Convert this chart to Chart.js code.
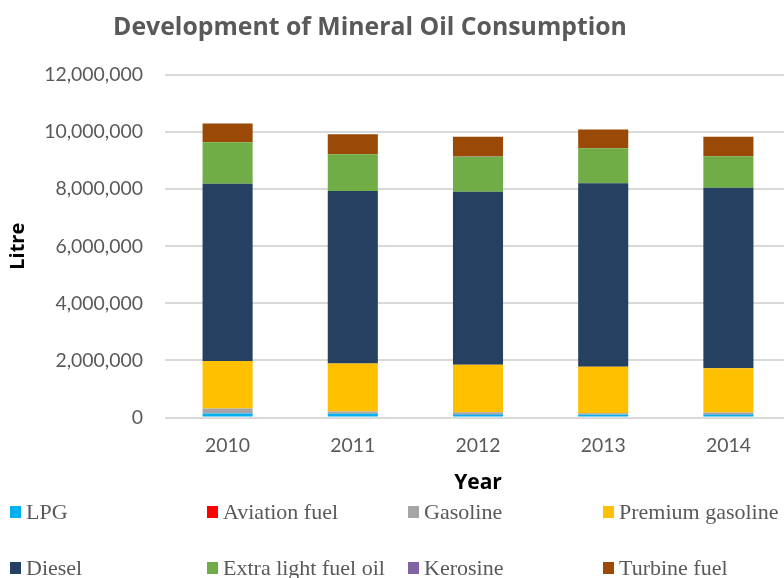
<!DOCTYPE html>
<html>
<head>
<meta charset="utf-8">
<script src="https://cdn.jsdelivr.net/npm/chart.js@4"></script>
<style>
    html, body { margin: 0; padding: 0; background: #fff; }
    #wrap { position: relative; width: 784px; height: 578px; overflow: hidden; }
    #chartBox { position: absolute; left: 0; top: 0; width: 800px; height: 500px; }
    #legend {
        position: absolute; left: 10px; top: 498px;
        display: grid; grid-template-columns: 197px 201px 195px 220px;
        grid-auto-rows: 28px; row-gap: 28px;
        font-family: "Liberation Serif", serif; font-size: 22px; color: #595959;
    }
    .item { display: flex; align-items: center; white-space: nowrap; }
    .box { width: 11px; height: 12px; margin-right: 5px; flex: none; }
</style>
</head>
<body>
<div id="wrap">
    <div id="chartBox"><canvas id="oilChart"></canvas></div>
    <div id="legend"></div>
</div>
<script>
const years = ['2010', '2011', '2012', '2013', '2014'];
const lpg = [140000, 130000, 110000, 95000, 110000];
const aviationFuel = [5000, 4000, 4000, 4000, 4000];
const gasoline = [175000, 78000, 74000, 54000, 62000];
const premiumGasoline = [1656000, 1682000, 1659000, 1623000, 1553000];
const diesel = [6214000, 6046000, 6063000, 6434000, 6321000];
const extraLightFuelOil = [1450000, 1280000, 1230000, 1220000, 1100000];
const kerosine = [5000, 4000, 4000, 4000, 4000];
const turbineFuel = [660000, 700000, 690000, 660000, 680000];

const yMax = 12000000;
const yStep = 2000000;

const grey = '#595959';

// draws the title off-centre, like the original
const titlePlugin = {
    id: 'offTitle',
    afterDraw(chart) {
        const ctx = chart.ctx;
        ctx.save();
        ctx.font = 'bold 24.8px "Open Sans"';
        ctx.fillStyle = grey;
        ctx.textAlign = 'center';
        ctx.textBaseline = 'middle';
        ctx.fillText('Development of Mineral Oil Consumption', 370, 28);
        ctx.restore();
    }
};

const ctx = document.getElementById('oilChart').getContext('2d');
const chart = new Chart(ctx, {
    type: 'bar',
    data: {
        labels: years,
        datasets: [
            { label: 'LPG', data: lpg, backgroundColor: '#00b0f0' },
            { label: 'Aviation fuel', data: aviationFuel, backgroundColor: '#ff0000' },
            { label: 'Gasoline', data: gasoline, backgroundColor: '#a5a5a5' },
            { label: 'Premium gasoline', data: premiumGasoline, backgroundColor: '#ffc000' },
            { label: 'Diesel', data: diesel, backgroundColor: '#264061' },
            { label: 'Extra light fuel oil', data: extraLightFuelOil, backgroundColor: '#70ad47' },
            { label: 'Kerosine', data: kerosine, backgroundColor: '#8064a2' },
            { label: 'Turbine fuel', data: turbineFuel, backgroundColor: '#9a4a06' }
        ]
    },
    options: {
        responsive: true,
        maintainAspectRatio: false,
        animation: false,
        layout: { padding: { top: 75, right: 9, bottom: 4, left: 0 } },
        datasets: { bar: { categoryPercentage: 1, barPercentage: 0.4, borderWidth: 0 } },
        plugins: {
            legend: { display: false },
            title: { display: false },
            tooltip: { enabled: false }
        },
        scales: {
            x: {
                stacked: true,
                grid: { display: false, drawTicks: false },
                border: { display: false },
                ticks: { color: grey, font: { family: 'Lato', size: 19.4 }, padding: 17 },
                title: {
                    display: true, text: 'Year', color: '#000',
                    font: { family: 'Open Sans', size: 21, weight: 'bold' },
                    padding: { top: -4, bottom: 0 }
                }
            },
            y: {
                stacked: true,
                min: 0, max: yMax,
                afterFit(scale) { scale.width = 165; },
                grid: { color: '#d9d9d9', lineWidth: 2, drawTicks: false },
                border: { display: false },
                ticks: {
                    stepSize: yStep, color: grey, padding: 22,
                    font: { family: 'Lato', size: 19.4 },
                    callback: v => v.toLocaleString('en-US')
                },
                title: {
                    display: true, text: 'Litre', color: '#000',
                    font: { family: 'Open Sans', size: 20, weight: 'bold' },
                    padding: { top: 6, bottom: 0 }
                }
            }
        }
    },
    plugins: [titlePlugin]
});

// legend in fixed columns, built from the datasets
const legendOrder = [0, 1, 2, 3, 4, 5, 6, 7];
document.getElementById('legend').innerHTML = legendOrder.map(i => {
    const ds = chart.data.datasets[i];
    return `<div class="item"><span class="box" style="background:${ds.backgroundColor}"></span>${ds.label}</div>`;
}).join('');
</script>
</body>
</html>
